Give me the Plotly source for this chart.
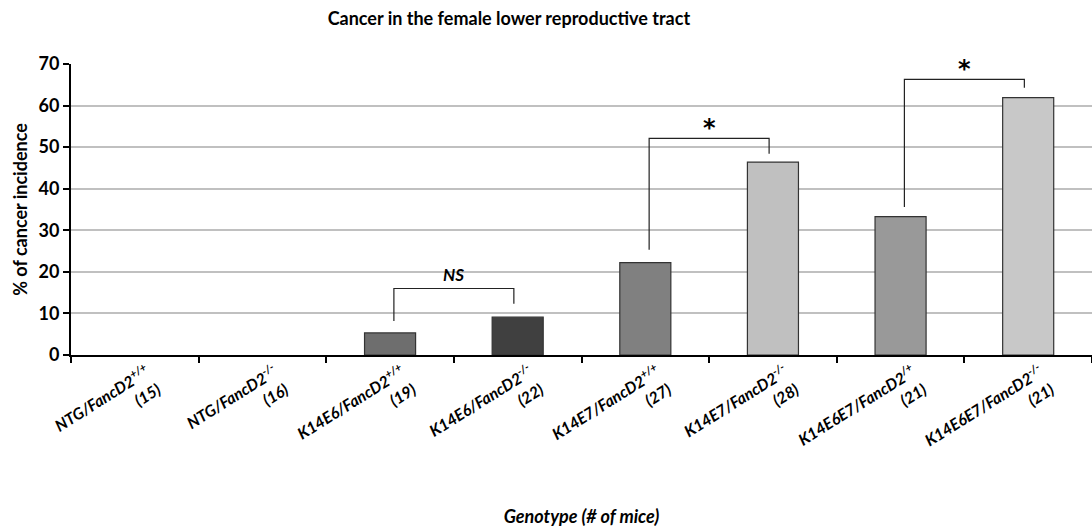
import plotly.graph_objects as go

categories = [
    "NTG/FancD2<sup>+/+</sup><br>(15)",
    "NTG/FancD2<sup>-/-</sup><br>(16)",
    "K14E6/FancD2<sup>+/+</sup><br>(19)",
    "K14E6/FancD2<sup>-/-</sup><br>(22)",
    "K14E7/FancD2<sup>+/+</sup><br>(27)",
    "K14E7/FancD2<sup>-/-</sup><br>(28)",
    "K14E6E7/FancD2<sup>/+</sup><br>(21)",
    "K14E6E7/FancD2<sup>-/-</sup><br>(21)",
]
incidence = [0, 0, 5.3, 9.1, 22.2, 46.4, 33.3, 61.9]
bar_colors = ["#a0a0a0", "#404040", "#6e6e6e", "#404040", "#808080", "#c0c0c0", "#999999", "#c8c8c8"]

# significance brackets: (left idx, right idx, left bottom, right bottom, top, label)
brackets = [
    (2.03, 2.97, 8.2, 12.3, 16.0, "<i>NS</i>"),
    (4.03, 4.97, 25.3, 48.4, 52.1, "*"),
    (6.03, 6.97, 35.6, 64.3, 66.3, "*"),
]

font_family = "Lato, 'Open Sans', sans-serif"

fig = go.Figure()
fig.add_trace(go.Bar(
    x=list(range(len(categories))),
    y=incidence,
    marker=dict(color=bar_colors,
                line=dict(color="#333333", width=[1.2 if v > 0 else 0 for v in incidence])),
    width=0.4,
    showlegend=False,
))

shapes = []
annotations = []
for xl, xr, yl, yr, yt, lab in brackets:
    shapes.append(dict(
        type="path", xref="x", yref="y",
        path=f"M {xl} {yl} L {xl} {yt} L {xr} {yt} L {xr} {yr}",
        line=dict(color="#222222", width=1.2),
    ))
    if lab == "*":
        annotations.append(dict(
            x=(xl + xr) / 2, y=yt, xref="x", yref="y", text="<b>*</b>",
            showarrow=False, yanchor="bottom", yshift=-6,
            font=dict(size=24, color="black", family="'DejaVu Sans', sans-serif"),
        ))
    else:
        annotations.append(dict(
            x=(xl + xr) / 2, y=yt, xref="x", yref="y", text=f"<b>{lab}</b>",
            showarrow=False, yanchor="bottom", yshift=1,
            font=dict(size=17, color="black", family=font_family),
        ))

fig.update_layout(
    width=1092, height=527,
    margin=dict(l=71, r=0, t=64, b=172),
    plot_bgcolor="white", paper_bgcolor="white",
    font=dict(family=font_family, color="black"),
    title=dict(
        text="<b>Cancer in the female lower reproductive tract</b>",
        x=0.466, xanchor="center", y=0.965, yanchor="middle",
        font=dict(size=18, color="black", family=font_family),
    ),
    shapes=shapes,
    annotations=annotations,
    bargap=0.6,
)

fig.update_xaxes(
    tickmode="array",
    tickvals=list(range(len(categories))),
    ticktext=[f"<b><i>{c}</i></b>" for c in categories],
    tickangle=-32,
    ticklabelshift=12,
    range=[-0.5, len(categories) - 0.5],
    showline=True, linecolor="black", linewidth=2,
    ticks="", showgrid=False,
    tickfont=dict(size=16, color="black", family=font_family),
    title=dict(text="<b><i>Genotype (# of mice)</i></b>", standoff=45,
               font=dict(size=18, color="black", family=font_family)),
)

fig.update_xaxes(
    minor=dict(tickmode="array", tickvals=[i - 0.5 for i in range(len(categories) + 1)],
               ticks="outside", ticklen=6, tickcolor="black", tickwidth=1.5, showgrid=False)
)

fig.update_yaxes(
    range=[0, 70], dtick=10,
    showline=True, linecolor="black", linewidth=2,
    ticks="outside", ticklen=6, tickcolor="black", tickwidth=1.5,
    showgrid=True, gridcolor="#c0c0c0", gridwidth=1.5,
    zeroline=False,
    tickfont=dict(size=18, color="black", family=font_family),
    tickprefix="<b>", ticksuffix="</b>",
    title=dict(text="<b>% of cancer incidence</b>", standoff=6,
               font=dict(size=18, color="black", family=font_family)),
)

fig.write_html("out.html")
